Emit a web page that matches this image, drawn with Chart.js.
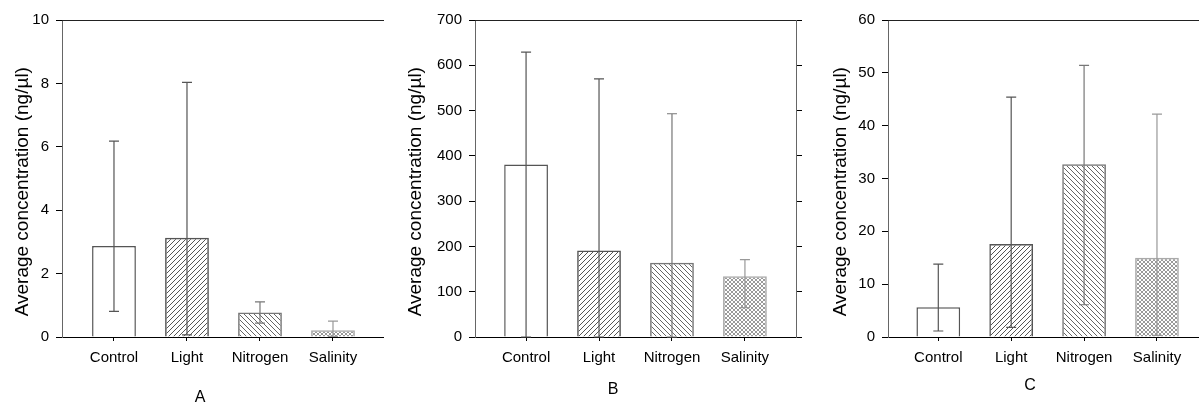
<!DOCTYPE html>
<html>
<head>
<meta charset="utf-8">
<title>Average concentration</title>
<script src="https://cdn.jsdelivr.net/npm/chart.js@4.4.1/dist/chart.umd.min.js"></script>
<style>
    html, body { margin: 0; padding: 0; background: #fff; overflow: hidden; }
    #wrap { position: relative; width: 1199px; height: 406px; overflow: hidden; }
    canvas { position: absolute; top: 0; }
</style>
</head>
<body>
<div id="wrap">
    <canvas id="chartA" width="400" height="406" style="left:0px"></canvas>
    <canvas id="chartB" width="426" height="406" style="left:400px"></canvas>
    <canvas id="chartC" width="408" height="406" style="left:826px"></canvas>
</div>
<script>
// --- Data ---
const categories = ['Control', 'Light', 'Nitrogen', 'Salinity'];

// Panel A
const meansA = [2.87, 3.13, 0.77, 0.21];
const upperA = [6.18, 8.03, 1.11, 0.50];
const lowerA = [0.81, 0.07, 0.44, 0.02];

// Panel B
const meansB = [381, 191, 164, 134];
const upperB = [629, 570, 493, 171];
const lowerB = [0, 0, 0, 65];

// Panel C
const meansC = [5.63, 17.6, 32.7, 15.0];
const upperC = [13.8, 45.4, 51.4, 42.2];
const lowerC = [1.14, 1.84, 6.1, 0.3];

const yTitle = 'Average concentration (ng/µl)';
const family = '"Liberation Sans", Arial, sans-serif';

// --- Fill patterns ---
function hatch(dir, color, size) {
    const c = document.createElement('canvas');
    c.width = size;
    c.height = size;
    const g = c.getContext('2d');
    g.strokeStyle = color;
    g.lineWidth = 1;
    g.beginPath();
    if (dir === '/' || dir === 'x') {
        g.moveTo(-1, size + 1); g.lineTo(size + 1, -1);
        g.moveTo(-1, 1); g.lineTo(1, -1);
        g.moveTo(size - 1, size + 1); g.lineTo(size + 1, size - 1);
    }
    if (dir === '\\' || dir === 'x') {
        g.moveTo(-1, -1); g.lineTo(size + 1, size + 1);
        g.moveTo(size - 1, -1); g.lineTo(size + 1, 1);
        g.moveTo(-1, size - 1); g.lineTo(1, size + 1);
    }
    g.stroke();
    return g.createPattern(c, 'repeat');
}

const barFills = ['#ffffff', hatch('/', '#555', 5), hatch('\\', '#666', 5), hatch('x', '#9a9a9a', 4)];
const barBorders = ['#555', '#555', '#777', '#aaa'];
const whiskerColors = ['#555', '#555', '#777', '#999'];

// --- Error bars drawn through the y scale ---
const errorBars = {
    id: 'errorBars',
    afterDatasetsDraw(chart, args, opts) {
        const meta = chart.getDatasetMeta(0);
        const y = chart.scales.y;
        const ctx = chart.ctx;
        ctx.save();
        ctx.lineWidth = 1.2;
        meta.data.forEach((bar, i) => {
            const top = y.getPixelForValue(opts.upper[i]);
            const bottom = y.getPixelForValue(opts.lower[i]);
            ctx.strokeStyle = whiskerColors[i];
            ctx.beginPath();
            ctx.moveTo(bar.x, top); ctx.lineTo(bar.x, bottom);
            ctx.moveTo(bar.x - 5, top); ctx.lineTo(bar.x + 5, top);
            ctx.moveTo(bar.x - 5, bottom); ctx.lineTo(bar.x + 5, bottom);
            ctx.stroke();
        });
        ctx.restore();
    }
};

// panel letter under each chart, centred on the canvas
const panelLabel = {
    id: 'panelLabel',
    afterDraw(chart, args, opts) {
        const ctx = chart.ctx;
        ctx.save();
        ctx.fillStyle = '#000';
        ctx.font = '16px ' + family;
        ctx.textAlign = 'center';
        ctx.textBaseline = 'middle';
        ctx.fillText(opts.text, chart.width / 2, chart.height - opts.bottom);
        ctx.restore();
    }
};

function makePanel(id, cfg) {
    const scales = {
        x: {
            type: 'linear',
            min: cfg.xMin,
            max: cfg.xMax,
            offset: false,
            afterBuildTicks: ax => { ax.ticks = categories.map((c, i) => ({ value: i + 1 })); },
            afterFit: ax => { ax.height = 69; },
            ticks: {
                callback: (v, i) => categories[i],
                color: '#000',
                font: { family, size: 15 },
                padding: 8,
                maxRotation: 0,
                autoSkip: false
            },
            grid: { drawOnChartArea: false, offset: false, tickLength: 4, color: '#000' },
            border: { color: '#000', width: 1 }
        },
        y: {
            min: 0,
            max: cfg.yMax,
            afterFit: ax => { ax.width = cfg.yWidth; },
            ticks: { stepSize: cfg.yStep, color: '#000', font: { family, size: 15 }, padding: 7 },
            grid: { drawOnChartArea: false, tickLength: 6, color: '#000' },
            border: { color: '#666', width: 1 },
            title: {
                display: true,
                text: yTitle + '     ',
                color: '#000',
                font: { family, size: 19 },
                padding: { top: cfg.titlePad, bottom: 0 }
            }
        },
        xTop: {
            type: 'linear',
            position: 'top',
            min: 0,
            max: 1,
            afterFit: ax => { ax.height = 0; },
            ticks: { display: false },
            grid: { display: false, drawTicks: false },
            border: { color: '#222', width: 1 }
        }
    };
    if (cfg.rightAxis) {
        scales.yRight = {
            position: 'right',
            min: 0,
            max: cfg.yMax,
            afterFit: ax => { ax.width = 6; },
            ticks: { display: false, stepSize: cfg.yStep },
            grid: { drawOnChartArea: false, tickLength: 6, color: '#000' },
            border: { color: '#666', width: 1 }
        };
    }

    return new Chart(document.getElementById(id), {
        type: 'bar',
        data: {
            datasets: [{
                data: cfg.means.map((v, i) => ({ x: i + 1, y: v })),
                backgroundColor: barFills,
                borderColor: barBorders,
                borderWidth: 1.5,
                borderSkipped: 'start',
                barPercentage: 0.6,
                categoryPercentage: 1
            }]
        },
        options: {
            responsive: false,
            animation: false,
            layout: { padding: { left: 0, top: 20, right: cfg.padRight, bottom: 0 } },
            scales,
            plugins: {
                legend: { display: false },
                tooltip: { enabled: false },
                errorBars: { upper: cfg.upper, lower: cfg.lower },
                panelLabel: { text: cfg.label, bottom: cfg.labelBottom }
            }
        },
        plugins: [errorBars, panelLabel]
    });
}

makePanel('chartA', {
    means: meansA, upper: upperA, lower: lowerA, label: 'A', labelBottom: 8,
    yMax: 10, yStep: 2, yWidth: 62, titlePad: 11, padRight: 17,
    xMin: 0.288, xMax: 4.685
});
makePanel('chartB', {
    means: meansB, upper: upperB, lower: lowerB, label: 'B', labelBottom: 16,
    yMax: 700, yStep: 100, yWidth: 75, titlePad: 4, padRight: 24, rightAxis: true,
    xMin: 0.30, xMax: 4.70
});
makePanel('chartC', {
    means: meansC, upper: upperC, lower: lowerC, label: 'C', labelBottom: 20,
    yMax: 60, yStep: 10, yWidth: 62, titlePad: 3, padRight: 26,
    xMin: 0.31, xMax: 4.70
});
</script>
</body>
</html>
